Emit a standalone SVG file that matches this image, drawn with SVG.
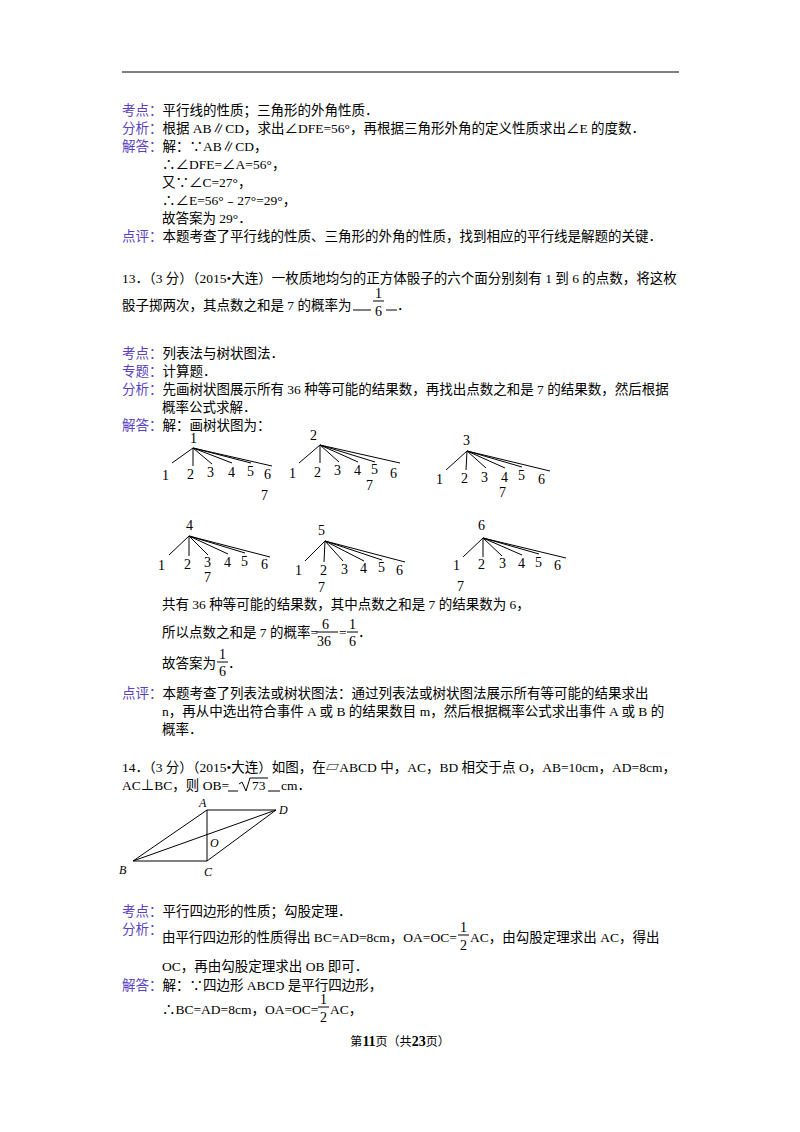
<svg xmlns="http://www.w3.org/2000/svg" width="800" height="1132" viewBox="0 0 800 1132">
<style>
text{font-family:"Liberation Serif","Noto Sans CJK SC",serif;font-size:13.5px;fill:#000}
.k{fill:#5a3fc0}
.n{font-size:14px}
.i{font-style:italic;font-size:12px}
line,polyline{stroke:#000;stroke-width:1;fill:none}
</style>
<rect width="800" height="1132" fill="#fff"/>
<line x1="122" y1="72" x2="679" y2="72"/>
<text x="122" y="115"><tspan class="k">考点：</tspan>平行线的性质；三角形的外角性质．</text>
<text x="122" y="133"><tspan class="k">分析：</tspan>根据 AB∥CD，求出∠DFE=56°，再根据三角形外角的定义性质求出∠E 的度数．</text>
<text x="122" y="151"><tspan class="k">解答：</tspan>解：∵AB∥CD，</text>
<text x="162" y="169">∴∠DFE=∠A=56°，</text>
<text x="162" y="187">又∵∠C=27°，</text>
<text x="162" y="205">∴∠E=56°﹣27°=29°，</text>
<text x="162" y="223">故答案为 29°．</text>
<text x="122" y="241"><tspan class="k">点评：</tspan>本题考查了平行线的性质、三角形的外角的性质，找到相应的平行线是解题的关键．</text>

<text x="122" y="283">13．（3 分）（2015•大连）一枚质地均匀的正方体骰子的六个面分别刻有 1 到 6 的点数，将这枚</text>
<text x="122" y="310">骰子掷两次，其点数之和是 7 的概率为</text>
<line x1="353" y1="310" x2="371" y2="310"/><line x1="386" y1="310" x2="397" y2="310"/>
<text x="375" y="298" class="n">1</text><line x1="373" y1="301" x2="384" y2="301"/><text x="375" y="316" class="n">6</text>
<text x="397" y="310">．</text>

<text x="122" y="358"><tspan class="k">考点：</tspan>列表法与树状图法．</text>
<text x="122" y="376"><tspan class="k">专题：</tspan>计算题．</text>
<text x="122" y="394"><tspan class="k">分析：</tspan>先画树状图展示所有 36 种等可能的结果数，再找出点数之和是 7 的结果数，然后根据</text>
<text x="162" y="412">概率公式求解．</text>
<text x="122" y="430"><tspan class="k">解答：</tspan>解：画树状图为：</text>

<g id="tree1">
<text x="190" y="443" class="n">1</text>
<polyline points="172,463 193,448 193,466"/><polyline points="212,464 193,448 232,463"/><polyline points="193,448 251,463"/><polyline points="193,448 272,466"/>
<text x="162" y="480" class="n">1</text><text x="187" y="479" class="n">2</text><text x="207" y="477" class="n">3</text><text x="228" y="477" class="n">4</text><text x="247" y="476" class="n">5</text><text x="264" y="479" class="n">6</text><text x="261" y="500" class="n">7</text>
</g>
<g id="tree2">
<text x="310" y="440" class="n">2</text>
<polyline points="299,463 320,445 320,463"/><polyline points="339,462 320,445 358,462"/><polyline points="320,445 375,462"/><polyline points="320,445 400,463"/>
<text x="289" y="478" class="n">1</text><text x="314" y="477" class="n">2</text><text x="334" y="475" class="n">3</text><text x="354" y="475" class="n">4</text><text x="371" y="474" class="n">5</text><text x="390" y="478" class="n">6</text><text x="366" y="490" class="n">7</text>
</g>
<g id="tree3">
<text x="463" y="445" class="n">3</text>
<polyline points="446,470 467,451 466,470"/><polyline points="486,468 467,451 505,468"/><polyline points="467,451 522,467"/><polyline points="467,451 550,471"/>
<text x="436" y="484" class="n">1</text><text x="461" y="483" class="n">2</text><text x="481" y="482" class="n">3</text><text x="501" y="482" class="n">4</text><text x="518" y="480" class="n">5</text><text x="538" y="484" class="n">6</text><text x="499" y="497" class="n">7</text>
</g>
<g id="tree4">
<text x="186" y="530" class="n">4</text>
<polyline points="169,555 189,536 189,556"/><polyline points="208,555 189,536 228,554"/><polyline points="189,536 245,553"/><polyline points="189,536 270,557"/>
<text x="158" y="570" class="n">1</text><text x="184" y="569" class="n">2</text><text x="204" y="567" class="n">3</text><text x="224" y="567" class="n">4</text><text x="241" y="566" class="n">5</text><text x="261" y="569" class="n">6</text><text x="204" y="582" class="n">7</text>
</g>
<g id="tree5">
<text x="318" y="535" class="n">5</text>
<polyline points="305,561 325,541 324,562"/><polyline points="343,561 325,541 364,561"/><polyline points="325,541 382,560"/><polyline points="325,541 405,562"/>
<text x="295" y="575" class="n">1</text><text x="320" y="575" class="n">2</text><text x="341" y="574" class="n">3</text><text x="360" y="573" class="n">4</text><text x="378" y="572" class="n">5</text><text x="396" y="575" class="n">6</text><text x="318" y="592" class="n">7</text>
</g>
<g id="tree6">
<text x="478" y="530" class="n">6</text>
<polyline points="463,557 483,538 483,557"/><polyline points="502,556 483,538 522,555"/><polyline points="483,538 539,554"/><polyline points="483,538 566,558"/>
<text x="453" y="570" class="n">1</text><text x="478" y="569" class="n">2</text><text x="499" y="568" class="n">3</text><text x="518" y="568" class="n">4</text><text x="535" y="567" class="n">5</text><text x="554" y="570" class="n">6</text><text x="457" y="591" class="n">7</text>
</g>

<text x="162" y="609">共有 36 种等可能的结果数，其中点数之和是 7 的结果数为 6，</text>
<text x="162" y="637">所以点数之和是 7 的概率=</text>
<text x="322" y="629" class="n">6</text><line x1="316" y1="632" x2="338" y2="632"/><text x="317" y="646" class="n">36</text>
<text x="339" y="637">=</text>
<text x="349" y="629" class="n">1</text><line x1="347" y1="632" x2="358" y2="632"/><text x="349" y="646" class="n">6</text>
<text x="358" y="637">．</text>
<text x="162" y="668">故答案为</text>
<text x="219" y="659" class="n">1</text><line x1="217" y1="662" x2="228" y2="662"/><text x="219" y="676" class="n">6</text>
<text x="228" y="668">．</text>
<text x="122" y="698"><tspan class="k">点评：</tspan>本题考查了列表法或树状图法：通过列表法或树状图法展示所有等可能的结果求出</text>
<text x="162" y="716">n，再从中选出符合事件 A 或 B 的结果数目 m，然后根据概率公式求出事件 A 或 B 的</text>
<text x="162" y="734">概率．</text>

<text x="122" y="772">14．（3 分）（2015•大连）如图，在▱ABCD 中，AC，BD 相交于点 O，AB=10cm，AD=8cm，</text>
<text x="122" y="790">AC⊥BC，则 OB=</text>
<line x1="228" y1="791" x2="238" y2="791"/><line x1="268" y1="791" x2="280" y2="791"/>
<polyline points="239,784 242,782 246,791 250,778 268,778"/>
<text x="252" y="790">73</text>
<text x="281" y="790">cm．</text>

<g id="parallelogram">
<polyline points="207,810 276,810 207,861 133,861 207,810 207,861"/>
<line x1="133" y1="861" x2="276" y2="810"/>
<text x="199" y="807" class="i">A</text><text x="279" y="814" class="i">D</text><text x="119" y="874" class="i">B</text><text x="204" y="876" class="i">C</text><text x="210" y="847" class="i">O</text>
</g>

<text x="122" y="916"><tspan class="k">考点：</tspan>平行四边形的性质；勾股定理．</text>
<text x="122" y="934" class="k">分析：</text>
<text x="162" y="942">由平行四边形的性质得出 BC=AD=8cm，OA=OC=</text>
<text x="460" y="932" class="n">1</text><line x1="458" y1="935" x2="469" y2="935"/><text x="460" y="950" class="n">2</text>
<text x="470" y="942">AC，由勾股定理求出 AC，得出</text>
<text x="162" y="971">OC，再由勾股定理求出 OB 即可．</text>
<text x="122" y="990"><tspan class="k">解答：</tspan>解：∵四边形 ABCD 是平行四边形，</text>
<text x="162" y="1014">∴BC=AD=8cm，OA=OC=</text>
<text x="320" y="1004" class="n">1</text><line x1="318" y1="1007" x2="329" y2="1007"/><text x="320" y="1022" class="n">2</text>
<text x="330" y="1014">AC，</text>
<text x="400" y="1046" text-anchor="middle" style="font-size:12px">第<tspan font-weight="bold" font-size="14">11</tspan>页（共<tspan font-weight="bold" font-size="14">23</tspan>页）</text>
</svg>
